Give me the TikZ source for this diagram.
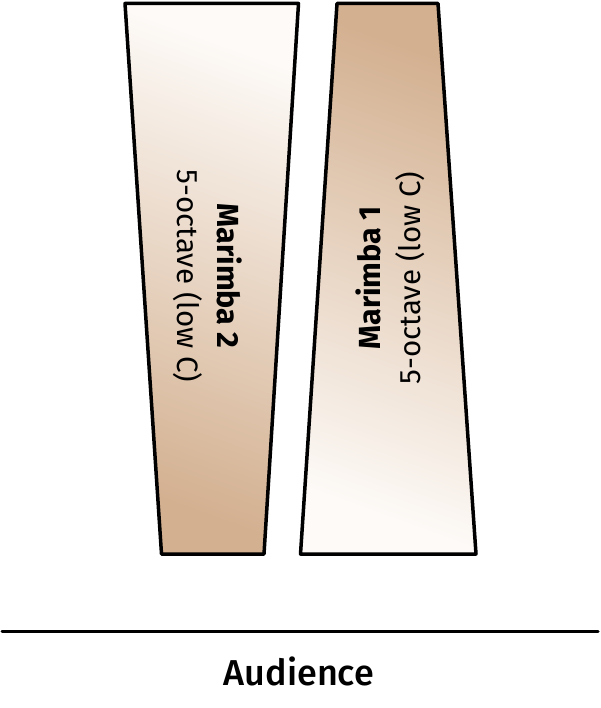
\documentclass[tikz,border=0pt]{standalone}
\usepackage{fontspec}
\setmainfont{Fira Sans}
\newfontfamily\audiencefont{Fira Sans Medium}
\usepackage{xcolor}
\usepackage{tikz}

\definecolor{marimbatan}{RGB}{211,176,144}
\definecolor{marimbacream}{RGB}{253,250,247}

\begin{document}
\begin{tikzpicture}[x=1pt, y=-1pt, line join=round,
    marimba/.style={draw=black, line width=3.5pt},
    label/.style={align=center, font=\fontsize{29.5}{40}\selectfont}]
    \useasboundingbox (0,0) rectangle (600,708);
    \draw[marimba, top color=marimbacream, bottom color=marimbatan, shading angle=-20]
        (125,3.5) -- (298.5,3.5) -- (264,554) -- (161.5,554) -- cycle;
    \draw[marimba, top color=marimbatan, bottom color=marimbacream, shading angle=-20]
        (337,3.5) -- (438,3.5) -- (476,554) -- (300.5,554) -- cycle;
    \node[label, rotate=-90] (marimba2) at (208,276) {\textbf{\fontsize{30.5}{40}\selectfont Marimba 2}\\5-octave (low C)};
    \node[label, rotate=90] (marimba1) at (390,278) {\textbf{\fontsize{30.5}{40}\selectfont Marimba 1}\\5-octave (low C)};
    \coordinate (stageleft) at (2,631);
    \coordinate (stageright) at (598,631);
    \draw[line width=3pt, line cap=round] (stageleft) -- (stageright);
    \node[anchor=base, font=\audiencefont\fontsize{36}{44}\selectfont] (audience) at (299,685) {Audience};
\end{tikzpicture}
\end{document}
